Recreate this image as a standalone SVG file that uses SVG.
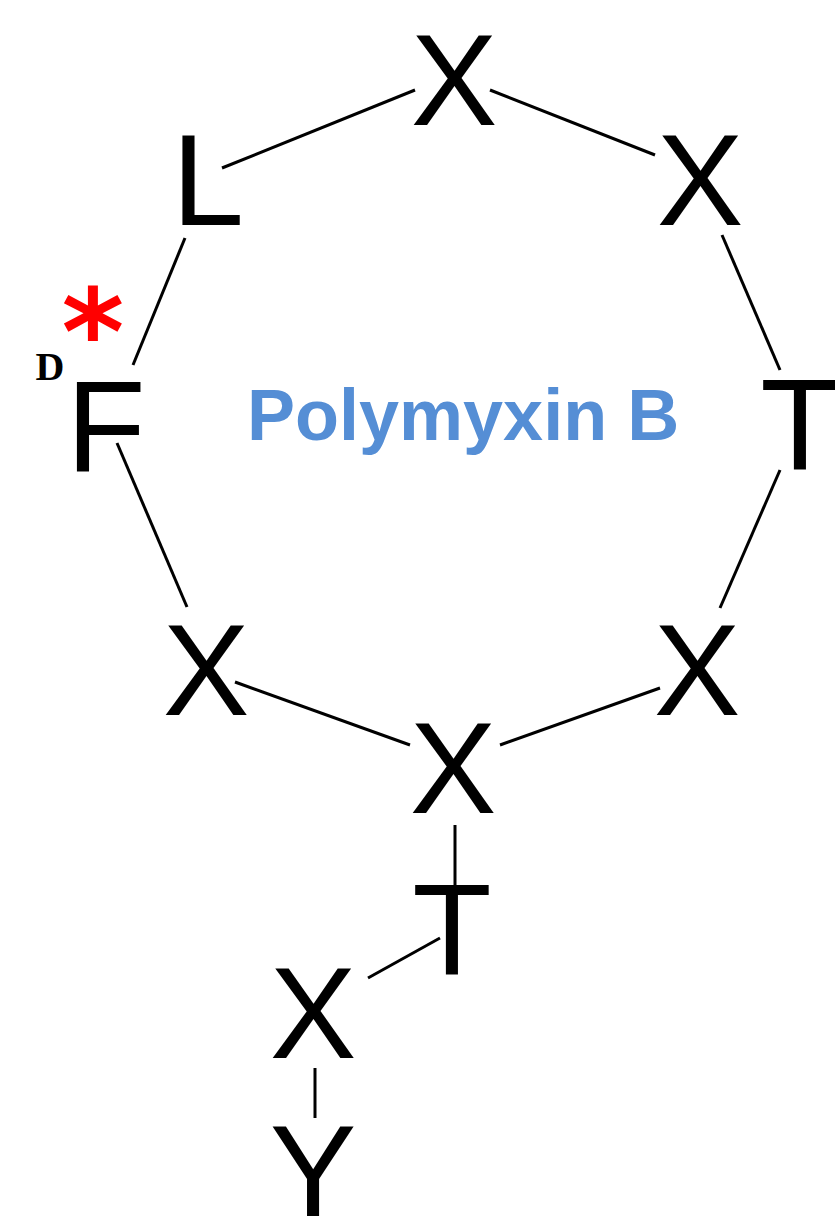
<svg xmlns="http://www.w3.org/2000/svg" width="835" height="1220" viewBox="0 0 835 1220">
  <style>
    .res { font-family: "Liberation Sans", Arial, sans-serif; font-size: 130px; fill: #000; text-anchor: middle; }
    .bond { stroke: #000; stroke-width: 3; stroke-linecap: butt; fill: none; }
    .title { font-family: "Liberation Sans", Arial, sans-serif; font-weight: bold; font-size: 72px; fill: #558ED5; }
  </style>
  <rect width="835" height="1220" fill="#fff"/>

  <!-- bonds between residues -->
  <g id="connectors">
    <line class="bond" x1="222" y1="168" x2="415" y2="90"/>
    <line class="bond" x1="490" y1="90" x2="655" y2="155"/>
    <line class="bond" x1="722" y1="235" x2="780" y2="370"/>
    <line class="bond" x1="780" y1="470" x2="720" y2="608"/>
    <line class="bond" x1="660" y1="688" x2="500" y2="745"/>
    <line class="bond" x1="410" y1="745" x2="235" y2="682"/>
    <line class="bond" x1="187" y1="607" x2="117" y2="443"/>
    <line class="bond" x1="133" y1="365" x2="185" y2="238"/>
    <line class="bond" x1="455" y1="825" x2="455" y2="895"/>
    <line class="bond" x1="440" y1="938" x2="368" y2="978"/>
    <line class="bond" x1="315" y1="1068" x2="315" y2="1118"/>
  </g>

  <g id="n-top"><text class="res" x="454" y="125">X</text></g>
  <g id="n-L"><text class="res" x="208" y="225">L</text></g>
  <g id="n-right-top"><text class="res" x="700" y="225">X</text></g>
  <g id="n-F">
    <text class="res" x="106" y="471">F</text>
    <text x="50" y="380" font-family="'Liberation Serif', 'Times New Roman', serif" font-weight="bold" font-size="40" text-anchor="middle">D</text>
    <text x="93" y="374" font-family="'DejaVu Sans', sans-serif" font-weight="bold" font-size="120" fill="#FF0000" text-anchor="middle">*</text>
  </g>
  <g id="n-T-right"><text class="res" x="800" y="470">T</text></g>
  <g id="n-lower-left"><text class="res" x="206" y="715">X</text></g>
  <g id="n-lower-right"><text class="res" x="697" y="715">X</text></g>
  <g id="n-bottom"><text class="res" x="453" y="813">X</text></g>
  <g id="n-T-tail"><text class="res" x="452" y="975">T</text></g>
  <g id="n-X-tail"><text class="res" x="313" y="1058">X</text></g>
  <g id="n-Y-tail"><text class="res" x="313" y="1216">Y</text></g>

  <g id="label"><text class="title" x="247" y="440">Polymyxin B</text></g>
</svg>
